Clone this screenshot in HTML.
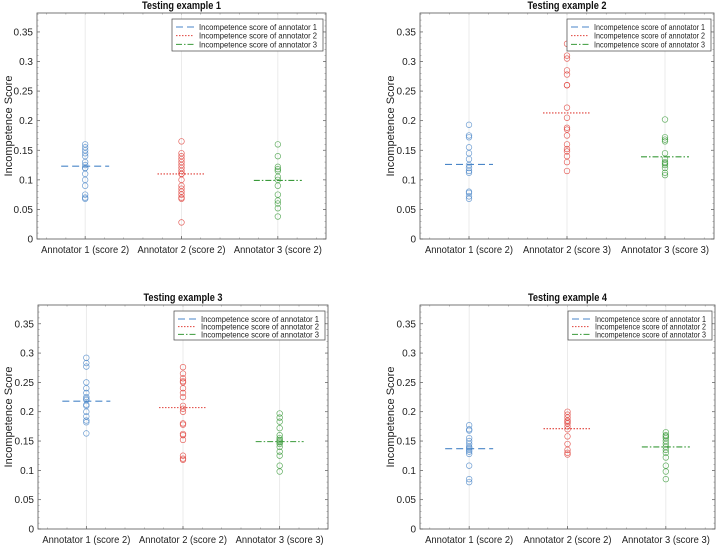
<!DOCTYPE html>
<html><head><meta charset="utf-8"><style>
html,body{margin:0;padding:0;background:#fff}
svg{display:block;font-family:"Liberation Sans",Arial,sans-serif}
</style></head><body>
<svg id="chart" width="722" height="549" viewBox="0 0 722 549" xmlns="http://www.w3.org/2000/svg"></svg>
<script>
const titles = ["Testing example 1","Testing example 2","Testing example 3","Testing example 4"];
const catLabels = [
  ["Annotator 1 (score 2)","Annotator 2 (score 2)","Annotator 3 (score 2)"],
  ["Annotator 1 (score 2)","Annotator 2 (score 3)","Annotator 3 (score 3)"],
  ["Annotator 1 (score 2)","Annotator 2 (score 2)","Annotator 3 (score 3)"],
  ["Annotator 1 (score 2)","Annotator 2 (score 2)","Annotator 3 (score 3)"]
];
const yTicks = [0,0.05,0.1,0.15,0.2,0.25,0.3,0.35];
const yTickLabels = ["0","0.05","0.1","0.15","0.2","0.25","0.3","0.35"];
const legendLabels = ["Incompetence score of annotator 1","Incompetence score of annotator 2","Incompetence score of annotator 3"];
const p1a1=[0.16,0.155,0.15,0.145,0.14,0.13,0.125,0.12,0.12,0.11,0.1,0.09,0.075,0.07,0.068];
const p1a2=[0.165,0.145,0.14,0.135,0.13,0.125,0.12,0.115,0.11,0.11,0.1,0.09,0.085,0.08,0.075,0.07,0.068,0.028];
const p1a3=[0.16,0.14,0.122,0.118,0.115,0.105,0.1,0.09,0.075,0.065,0.06,0.052,0.038];
const p2a1=[0.193,0.175,0.172,0.155,0.145,0.135,0.125,0.12,0.115,0.112,0.08,0.078,0.072,0.068];
const p2a2=[0.33,0.31,0.305,0.285,0.278,0.26,0.26,0.222,0.205,0.188,0.185,0.175,0.16,0.152,0.148,0.14,0.13,0.115];
const p2a3=[0.202,0.172,0.168,0.165,0.145,0.135,0.13,0.128,0.125,0.12,0.112,0.108];
const p3a1=[0.292,0.283,0.277,0.25,0.24,0.232,0.225,0.222,0.22,0.212,0.21,0.2,0.192,0.185,0.182,0.163];
const p3a2=[0.276,0.265,0.257,0.252,0.25,0.24,0.232,0.225,0.21,0.205,0.2,0.18,0.178,0.162,0.16,0.152,0.125,0.12,0.118];
const p3a3=[0.197,0.19,0.183,0.172,0.16,0.155,0.152,0.15,0.148,0.145,0.14,0.132,0.125,0.108,0.098];
const p4a1=[0.177,0.17,0.168,0.155,0.15,0.145,0.14,0.138,0.135,0.132,0.128,0.108,0.085,0.08];
const p4a2=[0.2,0.195,0.19,0.185,0.183,0.18,0.175,0.17,0.158,0.145,0.135,0.13,0.127];
const p4a3=[0.165,0.16,0.158,0.155,0.15,0.145,0.14,0.135,0.13,0.122,0.108,0.098,0.085];
const means = [[0.123,0.11,0.099],[0.126,0.213,0.139],[0.218,0.207,0.149],[0.137,0.171,0.14]];
const series = [[p1a1,p1a2,p1a3],[p2a1,p2a2,p2a3],[p3a1,p3a2,p3a3],[p4a1,p4a2,p4a3]];

const NS="http://www.w3.org/2000/svg";
const svg=document.getElementById('chart');
function mk(tag,attrs,parent){const e=document.createElementNS(NS,tag);for(const k in attrs)e.setAttribute(k,attrs[k]);(parent||svg).appendChild(e);return e;}
const boxes=[{l:37,r:326,t:13,b:239,ylab:8},{l:420,r:714,t:13,b:239,ylab:390},{l:38,r:328,t:305,b:529,ylab:8},{l:420,r:715,t:305,b:529,ylab:390}];
const colors=["#4a86c8","#e0403a","#3a9a3a"];
const dashes=["7,4","1.5,1.5","6,2,1.5,2"];
const YMAX=0.382;
boxes.forEach((B,pi)=>{
  const g=mk('g',{});
  
  
  const x=c=>B.l+(c-0.5)/3*(B.r-B.l);
  const y=v=>B.b-v/YMAX*(B.b-B.t);
  mk('rect',{x:B.l,y:B.t,width:B.r-B.l,height:B.b-B.t,fill:'#fff',stroke:'#555','stroke-width':0.8},g);
  for(let c=1;c<=3;c++) mk('line',{x1:x(c),x2:x(c),y1:B.t,y2:B.b,stroke:'#e6e6e6','stroke-width':0.8},g);
  yTicks.forEach((v,i)=>{
    mk('line',{x1:B.l,x2:B.l+3,y1:y(v),y2:y(v),stroke:'#555','stroke-width':0.7},g);
    mk('line',{x1:B.r,x2:B.r-3,y1:y(v),y2:y(v),stroke:'#555','stroke-width':0.7},g);
    const t=mk('text',{x:B.l-4,y:y(v)+3.5,'text-anchor':'end','font-size':10,fill:'#222'},g);
    t.textContent=yTickLabels[i];
    
    
  });
  for(let v=0.01;v<YMAX;v+=0.01){mk('line',{x1:B.l,x2:B.l+1.5,y1:y(v),y2:y(v),stroke:'#777','stroke-width':0.5},g);mk('line',{x1:B.r,x2:B.r-1.5,y1:y(v),y2:y(v),stroke:'#777','stroke-width':0.5},g);}
  for(let c=0.6;c<3.45;c+=0.2){mk('line',{x1:x(c),x2:x(c),y1:B.b,y2:B.b-1.5,stroke:'#777','stroke-width':0.5},g);mk('line',{x1:x(c),x2:x(c),y1:B.t,y2:B.t+1.5,stroke:'#777','stroke-width':0.5},g);}
  for(let c=1;c<=3;c++){
    mk('line',{x1:x(c),x2:x(c),y1:B.b,y2:B.b-3,stroke:'#555','stroke-width':0.7},g);
    const t=mk('text',{x:x(c),y:B.b+14,'text-anchor':'middle','font-size':10.5,fill:'#222',textLength:88,lengthAdjust:'spacingAndGlyphs'},g);
    t.textContent=catLabels[pi][c-1];
    
    
  }
  const tt=mk('text',{x:(B.l+B.r)/2,y:B.t-4,'text-anchor':'middle','font-size':11,'font-weight':'bold',fill:'#111',textLength:79,lengthAdjust:'spacingAndGlyphs'},g);
  tt.textContent=titles[pi];
  
  
  const yl=mk('text',{x:0,y:0,'text-anchor':'middle','font-size':11,fill:'#222',transform:`translate(${B.ylab+4},${(B.t+B.b)/2}) rotate(-90)`},g);
  yl.textContent="Incompetence Score";
  
  
  series[pi].forEach((arr,si)=>{
    arr.forEach(v=>{
      const c=mk('circle',{cx:x(si+1),cy:y(v),r:2.8,fill:'none',stroke:colors[si],'stroke-width':0.7,'stroke-opacity':0.8},g);
      
      
    });
    const m=means[pi][si];
    const ln=mk('line',{x1:x(si+1)-24,x2:x(si+1)+24,y1:y(m),y2:y(m),stroke:colors[si],'stroke-width':1.1,'stroke-dasharray':dashes[si]},g);
    
    
  });
  const lw=pi%2===0?151:144, lh=pi<2?32:29;
  const lx=B.r-3-lw, ly=B.t+6;
  const lg=mk('g',{},g);
  
  
  mk('rect',{x:lx,y:ly,width:lw,height:lh,fill:'#fff',stroke:'#444','stroke-width':0.7},lg);
  legendLabels.forEach((s,i)=>{
    const yy=ly+6+i*(lh-6)/3+2;
    mk('line',{x1:lx+4,x2:lx+22,y1:yy,y2:yy,stroke:colors[i],'stroke-width':1,'stroke-dasharray':dashes[i]},lg);
    const t=mk('text',{x:lx+27,y:yy+3,'font-size':8.4,fill:'#222',textLength:lw-33,lengthAdjust:'spacingAndGlyphs'},lg);
    t.textContent=s;
    
    
  });
});
</script>
</body></html>
